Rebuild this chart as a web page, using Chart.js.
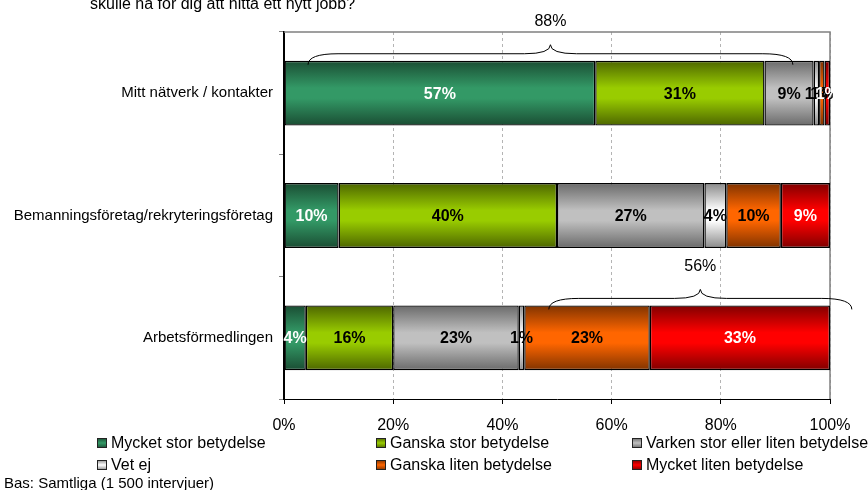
<!DOCTYPE html>
<html lang="sv">
<head>
<meta charset="UTF-8">
<title>Betydelse för att hitta ett nytt jobb</title>
<script src="https://cdn.jsdelivr.net/npm/chart.js"></script>
<style>
  html, body { margin: 0; padding: 0; background: #fff; }
  #wrap { width: 868px; height: 490px; }
</style>
</head>
<body>
<div id="wrap"><canvas id="chart" width="868" height="490"></canvas></div>
<script>
// data
const categories = ['Mitt nätverk / kontakter', 'Bemanningsföretag/rekryteringsföretag', 'Arbetsförmedlingen'];
const seriesNames = ['Mycket stor betydelse', 'Ganska stor betydelse', 'Varken stor eller liten betydelse',
                     'Vet ej', 'Ganska liten betydelse', 'Mycket liten betydelse'];
const mycketStor  = [57, 10, 4];
const ganskaStor  = [31, 40, 16];
const varken      = [9, 27, 23];
const vetEj       = [1, 4, 1];
const ganskaLiten = [1, 10, 23];
const mycketLiten = [1, 9, 33];
const xTicks = [0, 20, 40, 60, 80, 100];
const titleText = 'skulle ha för dig att hitta ett nytt jobb?';
const baseText = 'Bas: Samtliga (1 500 intervjuer)';

// braces: row, start %, end %, label = sum of the bracketed series
const braceRows = [0, 2];
const braceFrom = [4.4, 48.5];
const braceTo   = [93.2, 104];
const braceSums = [mycketStor[0] + ganskaStor[0], ganskaLiten[2] + mycketLiten[2]];

// styles
const FONT = '"Liberation Sans", Arial, sans-serif';
const baseColors = ['#339966', '#99cc00', '#c0c0c0', '#ffffff', '#ff6600', '#ff0000'];
const darkColors = ['#1a4d33', '#4d6600', '#6a6a6a', '#8a8a8a', '#803300', '#800000'];
const labelColors = ['#fff', '#000', '#000', '#000', '#000', '#fff'];
const BAR_PCT = 0.53;

function barFill(i) {
  return function(c) {
    const chart = c.chart;
    const area = chart.chartArea;
    if (!area || c.type !== 'data') return baseColors[i];
    const y = chart.scales.y.getPixelForValue(c.dataIndex);
    const h = (area.bottom - area.top) / categories.length * BAR_PCT;
    const g = chart.ctx.createLinearGradient(0, y - h / 2, 0, y + h / 2);
    g.addColorStop(0, darkColors[i]);
    g.addColorStop(0.42, baseColors[i]);
    g.addColorStop(0.58, baseColors[i]);
    g.addColorStop(1, darkColors[i]);
    return g;
  };
}

const allSeries = [mycketStor, ganskaStor, varken, vetEj, ganskaLiten, mycketLiten];
const datasets = allSeries.map((vals, i) => ({
  label: seriesNames[i],
  data: vals,
  backgroundColor: barFill(i),
  borderColor: '#000',
  borderWidth: 1.4,
  borderSkipped: false,
  categoryPercentage: 1,
  barPercentage: BAR_PCT
}));

// plugin: top/right frame, value labels, braces, title, legend, footnote
const extras = {
  id: 'extras',
  beforeDatasetsDraw(chart) {
    const { ctx, chartArea: a } = chart;
    ctx.save();
    ctx.strokeStyle = '#808080';
    ctx.lineWidth = 1.5;
    ctx.beginPath();
    ctx.moveTo(a.left, a.top); ctx.lineTo(a.right, a.top); ctx.lineTo(a.right, a.bottom);
    ctx.stroke();
    ctx.restore();
  },
  afterDatasetsDraw(chart) {
    const { ctx } = chart;
    ctx.save();
    ctx.font = 'bold 16px ' + FONT;
    ctx.textAlign = 'center';
    ctx.textBaseline = 'middle';
    chart.data.datasets.forEach((ds, i) => {
      chart.getDatasetMeta(i).data.forEach((el, j) => {
        ctx.fillStyle = labelColors[i];
        ctx.fillText(ds.data[j] + '%', (el.x + el.base) / 2, el.y + 1);
      });
    });

    // braces
    const xs = chart.scales.x;
    const area = chart.chartArea;
    const h = (area.bottom - area.top) / categories.length * BAR_PCT;
    ctx.strokeStyle = '#000';
    ctx.lineWidth = 1;
    braceRows.forEach((row, k) => {
      const top = chart.scales.y.getPixelForValue(row) - h / 2;
      const x0 = xs.getPixelForValue(braceFrom[k]);
      const x1 = xs.getPixelForValue(braceTo[k]);
      const xm = (x0 + x1) / 2;
      const yEnd = top + 4, yH = top - 7, yTip = top - 16;
      const r = 30, rt = 26;
      ctx.beginPath();
      ctx.moveTo(x0, yEnd);
      ctx.quadraticCurveTo(x0, yH, x0 + r, yH);
      ctx.lineTo(xm - rt, yH);
      ctx.quadraticCurveTo(xm, yH, xm, yTip);
      ctx.quadraticCurveTo(xm, yH, xm + rt, yH);
      ctx.lineTo(x1 - r, yH);
      ctx.quadraticCurveTo(x1, yH, x1, yEnd);
      ctx.stroke();
      ctx.fillStyle = '#000';
      ctx.font = '16px ' + FONT;
      ctx.fillText(braceSums[k] + '%', xm, top - 39);
    });
    ctx.restore();
  },
  afterDraw(chart) {
    const { ctx } = chart;
    ctx.save();
    ctx.fillStyle = '#000';
    ctx.textBaseline = 'alphabetic';
    ctx.textAlign = 'left';
    ctx.font = '16px ' + FONT;
    ctx.fillText(titleText, 90, 9);

    // legend, 3 columns x 2 rows
    const colX = [97, 376, 632];
    const rowY = [443, 465];
    ctx.textBaseline = 'middle';
    ctx.font = '16px ' + FONT;
    seriesNames.forEach((name, i) => {
      const x = colX[i % 3], y = rowY[Math.floor(i / 3)];
      const g = ctx.createLinearGradient(0, y - 5, 0, y + 5);
      g.addColorStop(0, darkColors[i]);
      g.addColorStop(0.5, baseColors[i]);
      g.addColorStop(1, darkColors[i]);
      ctx.fillStyle = g;
      ctx.fillRect(x, y - 5, 10, 10);
      ctx.strokeStyle = '#222';
      ctx.lineWidth = 1;
      ctx.strokeRect(x + 0.5, y - 4.5, 9, 9);
      ctx.fillStyle = '#000';
      ctx.fillText(name, x + 14, y + 1);
    });

    ctx.font = '15px ' + FONT;
    ctx.textBaseline = 'alphabetic';
    ctx.fillText(baseText, 4, 488);
    ctx.restore();
  }
};

new Chart(document.getElementById('chart'), {
  type: 'bar',
  data: { labels: categories, datasets: datasets },
  plugins: [extras],
  options: {
    responsive: false,
    animation: false,
    indexAxis: 'y',
    layout: { padding: { top: 32, right: 38, left: 0, bottom: 0 } },
    plugins: { legend: { display: false }, tooltip: { enabled: false } },
    scales: {
      x: {
        stacked: true,
        min: 0,
        max: 100,
        afterBuildTicks: s => { s.ticks = xTicks.map(v => ({ value: v })); },
        afterFit: s => { s.height = 91; },
        ticks: {
          callback: v => v + '%',
          color: '#000',
          font: { family: FONT, size: 16 },
          padding: 12,
          maxRotation: 0
        },
        grid: {
          color: c => (c.index === 0 ? 'rgba(0,0,0,0)' : '#b4b4b4'),
          tickColor: '#000',
          tickLength: 5,
          lineWidth: 1
        },
        border: { color: '#000', width: 1, dash: [3, 3] }
      },
      y: {
        stacked: true,
        afterFit: s => { s.width = 284; },
        ticks: {
          color: '#000',
          font: { family: FONT, size: 15 },
          padding: 6
        },
        grid: {
          drawOnChartArea: false,
          offset: true,
          tickLength: 5,
          tickColor: '#808080'
        },
        border: { color: '#000', width: 2 }
      }
    }
  }
});
</script>
</body>
</html>
